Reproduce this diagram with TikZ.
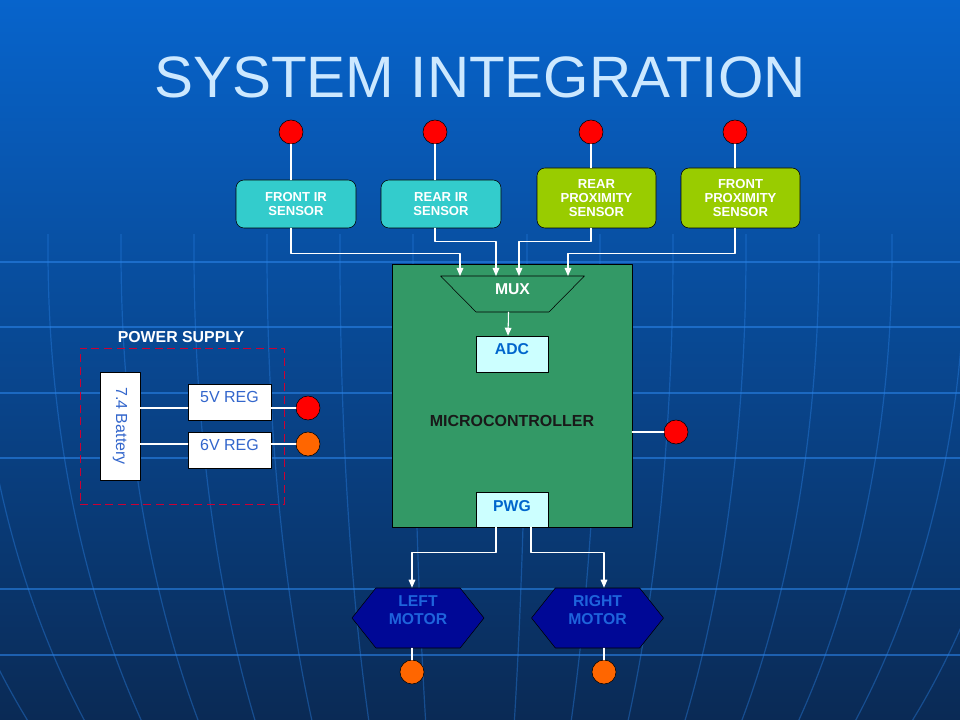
\documentclass[tikz,border=0pt]{standalone}
\usepackage{fontspec}
\setmainfont{Liberation Sans}
\usetikzlibrary{arrows.meta,shapes.geometric,shapes.symbols}
\definecolor{bgtop}{HTML}{0764CC}
\definecolor{bgmid}{HTML}{0A4C9C}
\definecolor{bgbot}{HTML}{0A2A55}
\definecolor{gridblue}{HTML}{2A82E6}
\definecolor{irteal}{HTML}{33CCCC}
\definecolor{proxgreen}{HTML}{99CC00}
\definecolor{mcgreen}{HTML}{339966}
\definecolor{chipcyan}{HTML}{CCFFFF}
\definecolor{chipblue}{HTML}{0066CC}
\definecolor{regblue}{HTML}{3366CC}
\definecolor{motornavy}{HTML}{000896}
\definecolor{motorblue}{HTML}{1E64DC}
\definecolor{psred}{HTML}{CC0033}
\definecolor{pinred}{HTML}{FF0000}
\definecolor{pinorange}{HTML}{FF6600}
\definecolor{titleblue}{HTML}{CCE8FF}
\begin{document}
\begin{tikzpicture}[x=0.75pt,y=-0.75pt,>={Triangle[length=6pt,width=5pt]},line join=round,line cap=round,
		sensor/.style={draw=black,rounded corners=6pt,text=white,align=center,inner sep=0pt,minimum width=90pt,font=\bfseries\fontsize{9.8}{10.5}\selectfont},
		irbox/.style={sensor,fill=irteal,minimum height=36pt},
		proxbox/.style={sensor,fill=proxgreen,minimum height=45pt},
		pin/.style={circle,draw=black,fill=pinred,minimum size=18pt,inner sep=0pt},
		opin/.style={pin,fill=pinorange},
		wire/.style={draw=white,line width=0.8pt},
		chip/.style={draw=black,fill=chipcyan,minimum width=54pt,minimum height=27pt,inner sep=0pt,text=chipblue,font=\bfseries\fontsize{11.8}{12}\selectfont},
		regbox/.style={draw=black,fill=white,minimum width=62.25pt,minimum height=27pt,inner sep=0pt,text=regblue,text depth=7.5pt,font=\fontsize{12}{12}\selectfont},
		motor/.style={signal,signal to=east and west,signal pointer angle=103,draw=black,fill=motornavy,minimum width=99pt,minimum height=45pt,inner sep=0pt,text=motorblue,align=center,text depth=12pt,font=\bfseries\fontsize{11.8}{13.5}\selectfont},
		gridline/.style={draw=gridblue,opacity=.6,line width=1.3pt}]
	% background
	\shade[top color=bgtop,middle color=bgmid,bottom color=bgbot] (0,0) rectangle (960,720);
	\begin{scope}
		\clip (0,235) rectangle (960,720);
		\foreach \y in {262,327,393,458,589,655} \draw[gridline] (0,\y) -- (960,\y);
		\foreach \a in {57,130,203,276,349,422,495,568,641} \draw[gridline,opacity=.4,line width=0.9pt] (470,250) ellipse ({\a} and 750);
	\end{scope}
	\node[text=titleblue,font=\fontsize{43.8}{44}\selectfont] (ttl) at (480,77) {SYSTEM INTEGRATION};
	% sensors
	\node[irbox] (sn1) at (296,204) {FRONT IR\\SENSOR};
	\node[irbox] (sn2) at (441,204) {REAR IR\\SENSOR};
	\node[proxbox,minimum width=89.25pt] (sn3) at (596.5,198) {REAR\\PROXIMITY\\SENSOR};
	\node[proxbox,minimum width=89.25pt] (sn4) at (740.5,198) {FRONT\\PROXIMITY\\SENSOR};
	\foreach \n/\x in {1/291,2/435,3/591,4/735} {
		\node[pin] (s\n) at (\x,132) {};
		\draw[wire] (s\n) -- (s\n |- sn\n.north);
	}
	% microcontroller
	\node[draw=black,fill=mcgreen,minimum width=180pt,minimum height=197.25pt,inner sep=0pt] (mc) at (512,395.5) {};
	\node[text=black!90,font=\bfseries\fontsize{12}{12}\selectfont] (mct) at (512,421) {MICROCONTROLLER};
	\node[trapezium,shape border rotate=180,trapezium left angle=50.7,trapezium right angle=50.7,trapezium stretches=true,
		draw=black,fill=mcgreen,minimum width=108pt,minimum height=27pt,inner sep=0pt,text=white,text depth=7.5pt,
		font=\bfseries\fontsize{11.8}{12}\selectfont] (mux) at (512.5,294) {MUX};
	\node[chip,text depth=7.5pt] (adc) at (512,354) {ADC};
	\node[chip,minimum height=26.25pt,text depth=5pt] (pwg) at (512,509.5) {PWG};
	\foreach \n/\x in {1/460,2/496,3/519,4/568} \coordinate (mx\n) at (\x,276);
	\foreach \n/\d in {1/25,2/13,3/13,4/25} \draw[wire,->] (s\n |- sn\n.south) -- ++(0,\d) -| (mx\n);
	\draw[wire,->] ([xshift=-3pt]mux.south) -- ([xshift=-3pt]adc.north);
	\node[pin] (mp) at (676,432) {};
	\draw[wire] (mc.east |- mp) -- (mp);
	% motors
	\node[motor] (lm) at (418,618) {LEFT\\MOTOR};
	\node[motor] (rm) at (597.5,618) {RIGHT\\MOTOR};
	\node[opin] (lp) at (412,672) {};
	\node[opin] (rp) at (604,672) {};
	\draw[wire,->] ([xshift=-12pt]pwg.south) -- ++(0,25) -| (lm.north -| lp);
	\draw[wire,->] ([xshift=14.25pt]pwg.south) -- ++(0,25) -| (rm.north -| rp);
	\draw[wire] (lm.south -| lp) -- (lp);
	\draw[wire] (rm.south -| rp) -- (rp);
	% power supply
	\node[draw=psred,dash pattern=on 6pt off 3.5pt,line cap=butt,minimum width=153pt,minimum height=117pt,inner sep=0pt] (ps) at (182,426) {};
	\node[text=white,font=\bfseries\fontsize{11.9}{12}\selectfont] (pst) at (181,337) {POWER SUPPLY};
	\node[draw=black,fill=white,minimum width=30pt,minimum height=81pt,inner sep=0pt] (bat) at (120,426) {};
	\node[rotate=-90,text=regblue,font=\fontsize{12}{12}\selectfont] (batt) at (bat) {7.4 Battery};
	\node[regbox] (r5) at (229.5,402) {5V REG};
	\node[regbox] (r6) at (229.5,450) {6V REG};
	\node[pin] (p5) at (308,408) {};
	\node[opin] (p6) at (308,444) {};
	\draw[wire] (bat.east |- p5) -- (r5.west |- p5);
	\draw[wire] (bat.east |- p6) -- (r6.west |- p6);
	\draw[wire] (r5.east |- p5) -- (p5);
	\draw[wire] (r6.east |- p6) -- (p6);
\end{tikzpicture}
\end{document}
